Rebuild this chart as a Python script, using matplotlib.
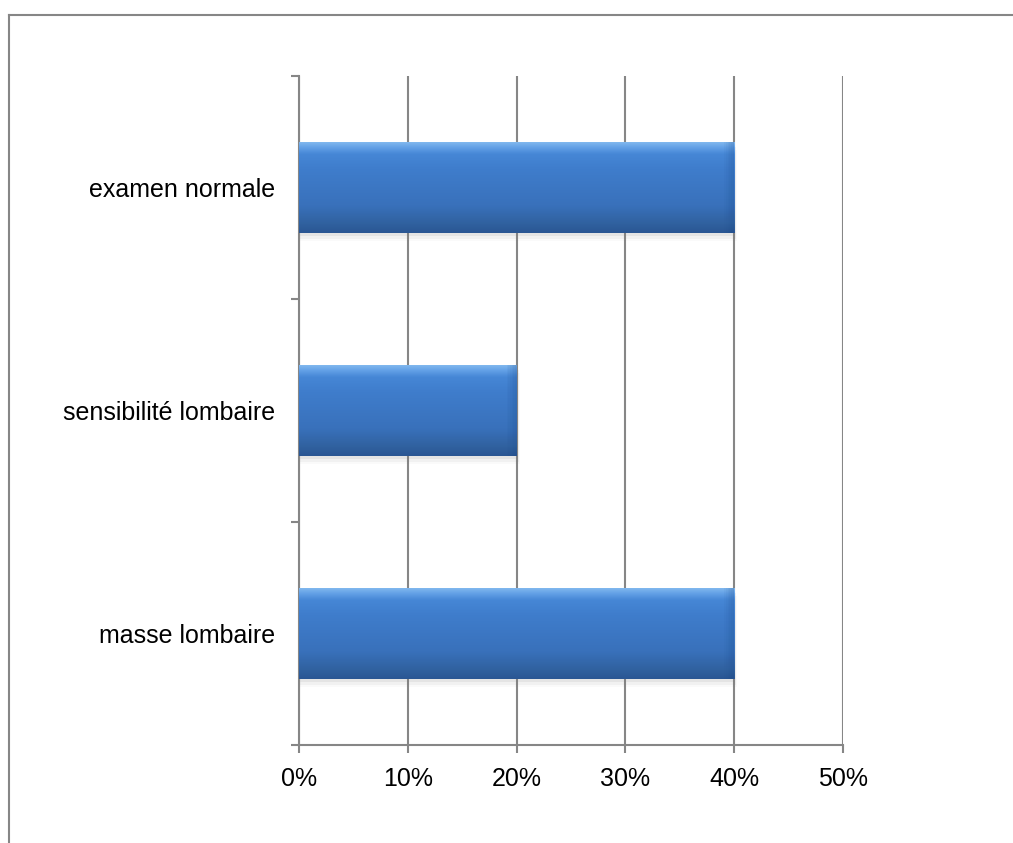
import numpy as np
import matplotlib
matplotlib.use("Agg")
import matplotlib.pyplot as plt
from matplotlib.lines import Line2D
from matplotlib.patches import Rectangle
from matplotlib.colors import LinearSegmentedColormap

categories = ["masse lombaire", "sensibilité lombaire", "examen normale"]
values = [40, 20, 40]
xticks = [0, 10, 20, 30, 40, 50]

plt.rcParams["font.family"] = ["Liberation Sans", "DejaVu Sans"]

grey = "#868686"
fig = plt.figure(figsize=(10.13, 8.43), dpi=100)
ax = fig.add_axes([0.2952, 0.1163, 0.5370, 0.7935])

# outer frame of the chart area (top and left edges)
fig.add_artist(Line2D([0.0085, 1.0], [0.9825, 0.9825], color=grey, lw=1.5, transform=fig.transFigure))
fig.add_artist(Line2D([0.0085, 0.0085], [0.0, 0.9825], color=grey, lw=1.5, transform=fig.transFigure))

ypos = np.arange(len(categories))
bar_h = 0.41
bars = ax.barh(ypos, values, height=bar_h, color="none", zorder=3)

# vertical blue gradient with a light top edge
cmap = LinearSegmentedColormap.from_list(
    "bevel",
    [(0.0, "#2a5693"), (0.10, "#30619f"), (0.30, "#3971bb"),
     (0.70, "#3f7dcc"), (0.86, "#4687d6"), (0.93, "#62a0e6"), (1.0, "#86bcf0")])
grad = np.linspace(0, 1, 256).reshape(-1, 1)
for b in bars:
    x0, y0 = b.get_x(), b.get_y()
    w, h = b.get_width(), b.get_height()
    # soft shadow beneath the bar
    for k, a in enumerate([0.10, 0.07, 0.04]):
        ax.add_patch(Rectangle((x0 + 0.1, y0 - 0.012 * (k + 1)), w + 0.1 * k, h,
                               facecolor="#808080", alpha=a, lw=0, zorder=2))
    im = ax.imshow(grad, cmap=cmap, aspect="auto", origin="lower",
                   extent=[x0, x0 + w, y0, y0 + h], zorder=3)
    clip = Rectangle((x0, y0), w, h, transform=ax.transData)
    im.set_clip_path(clip)
    # gradual darkening towards the right end
    for k in range(6):
        ax.add_patch(Rectangle((x0 + w - 0.9 + 0.15 * k, y0), 0.9 - 0.15 * k, h,
                               facecolor="#1f4f8f", alpha=0.05, lw=0, zorder=4))

ax.set_xlim(0, 50)
ax.set_ylim(-0.5, len(categories) - 0.5)
ax.set_xticks(xticks)
ax.set_xticklabels([f"{t}%" for t in xticks])
ax.set_yticks(np.arange(-0.5, len(categories), 1.0))
ax.set_yticklabels([])
ax.set_yticks(ypos, minor=True)
ax.set_yticklabels(categories, minor=True)
ax.tick_params(axis="y", which="minor", length=0, pad=17.5, labelsize=18)
ax.tick_params(axis="y", which="major", length=6, width=1.5, color=grey, direction="out")
ax.tick_params(axis="x", length=6, width=1.5, color=grey, direction="out", pad=10, labelsize=18)

ax.grid(axis="x", color=grey, lw=1.5, zorder=1)
ax.set_axisbelow(True)
for s in ["top", "right"]:
    ax.spines[s].set_visible(False)
for s in ["left", "bottom"]:
    ax.spines[s].set_color(grey)
    ax.spines[s].set_linewidth(1.5)

fig.savefig("out.png", dpi=100)
